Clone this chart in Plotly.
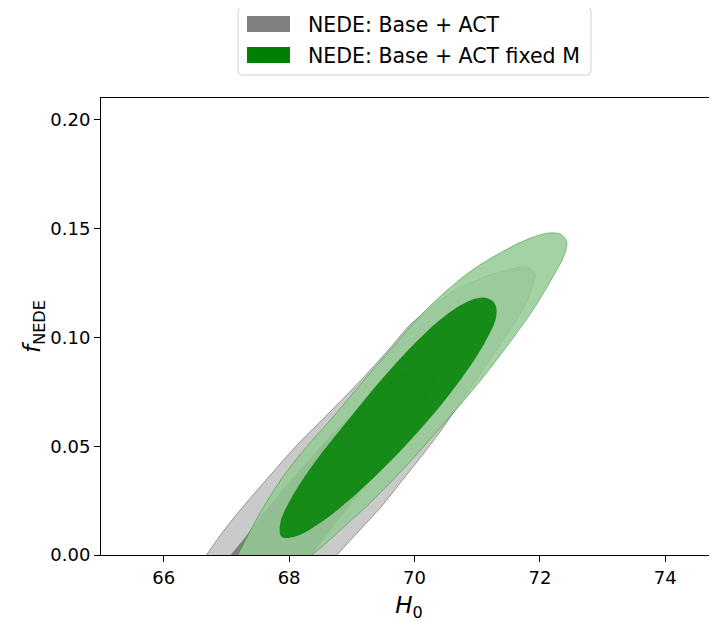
import plotly.graph_objects as go

# ---------------- data: contour outlines (H0, f_NEDE) ----------------
# NEDE: Base + ACT, 95% region (truncated at f_NEDE = 0)
base_95_h0 = [66.683, 66.990, 67.357, 67.772, 68.155, 68.585, 69.144, 69.622, 69.925, 70.308,
              70.643, 70.882, 71.153, 71.467, 71.786, 71.919, 71.871, 71.743, 71.504, 71.265,
              70.978, 70.691, 70.404, 70.100, 69.781, 69.463, 69.128, 68.761]
base_95_f = [0.0, 0.0124, 0.0253, 0.0390, 0.0514, 0.0638, 0.0803, 0.0955, 0.1056, 0.1148,
             0.1216, 0.1249, 0.1281, 0.1308, 0.1323, 0.1293, 0.1226, 0.1138, 0.1028, 0.0923,
             0.0803, 0.0684, 0.0565, 0.0450, 0.0335, 0.0220, 0.0115, 0.0]

# NEDE: Base + ACT, 68% region (truncated at f_NEDE = 0)
base_68_h0 = [67.070, 67.293, 67.565, 67.868, 68.203, 68.585, 68.952, 69.335, 69.734, 70.085,
              70.292, 70.404, 70.372, 70.212, 69.877, 69.494, 69.239, 68.936, 68.633, 68.362]
base_68_f = [0.0, 0.0078, 0.0179, 0.0289, 0.0399, 0.0523, 0.0629, 0.0730, 0.0822, 0.0886,
             0.0907, 0.0880, 0.0822, 0.0725, 0.0583, 0.0422, 0.0331, 0.0216, 0.0106, 0.0]

# NEDE: Base + ACT fixed M, 95% region (truncated at f_NEDE = 0)
fixed_95_h0 = [67.182, 67.405, 67.660, 67.979, 68.330, 68.713, 69.191, 69.654, 70.085, 70.483,
               70.914, 71.408, 71.839, 72.158, 72.349, 72.429, 72.381, 72.222, 72.046, 71.864,
               71.606, 71.329, 71.048, 70.738, 70.435, 70.123, 69.804, 69.463, 69.223, 68.957,
               68.681, 68.362]
fixed_95_f = [0.0, 0.0124, 0.0253, 0.0390, 0.0514, 0.0638, 0.0803, 0.0955, 0.1097, 0.1207,
              0.1308, 0.1395, 0.1455, 0.1480, 0.1471, 0.1437, 0.1373, 0.1285, 0.1198, 0.1115,
              0.1010, 0.0904, 0.0799, 0.0693, 0.0592, 0.0491, 0.0390, 0.0289, 0.0220, 0.0152,
              0.0078, 0.0]

# NEDE: Base + ACT fixed M, 68% region (closed)
fixed_68_h0 = [68.936, 69.494, 70.037, 70.499, 70.914, 71.137, 71.282, 71.301, 71.110, 70.737,
               70.225, 69.632, 69.034, 68.504, 68.102, 67.879, 67.860, 68.051, 68.424, 68.936]
fixed_68_f = [0.0618, 0.0813, 0.0982, 0.1102, 0.1173, 0.1182, 0.1155, 0.1092, 0.0970, 0.0807,
              0.0621, 0.0435, 0.0271, 0.0149, 0.0085, 0.0084, 0.0148, 0.0270, 0.0432, 0.0618]

series_names = ["NEDE: Base + ACT", "NEDE: Base + ACT fixed M"]
series_colors = ["rgb(128,128,128)", "rgb(0,128,0)"]

x_ticks = [66, 68, 70, 72, 74]
y_ticks = [0.00, 0.05, 0.10, 0.15, 0.20]
y_tick_labels = ["0.00", "0.05", "0.10", "0.15", "0.20"]

# ---------------- layout geometry (page pixels; the page body has an 8 px margin) ----------------
OFF = 8
PAGE_W, PAGE_H = 717, 622
W, H = PAGE_W - OFF, PAGE_H - OFF
L, R, T, B = 101, 717, 98, 555          # plot box on the page
FONT = "DejaVu Sans"
PX_PER_UNIT = 62.7                       # x-axis scale

fig = go.Figure()


def add_region(h0, f, fill, line_color, line_width):
    fig.add_trace(go.Scatter(
        x=h0, y=f, mode="lines", fill="toself", fillcolor=fill,
        line=dict(color=line_color, width=line_width, shape="spline", smoothing=1.0),
        hoverinfo="skip", showlegend=False))


add_region(base_95_h0, base_95_f, "rgb(202,202,202)", "rgba(128,128,128,0.8)", 1)
add_region(base_68_h0, base_68_f, "rgb(128,128,128)", "rgba(128,128,128,1)", 0.5)
add_region(fixed_95_h0, fixed_95_f, "rgba(149,202,149,0.85)", "rgba(0,128,0,0.45)", 0.9)
add_region(fixed_68_h0, fixed_68_f, "rgba(0,128,0,0.85)", "rgba(0,128,0,0.0)", 0.5)


def pp(px, py):
    """page pixel -> paper coordinates"""
    return (px - L) / (R - L), (B - py) / (B - T)


shapes = []
x0, y1 = pp(238, 7)
x1, y0 = pp(591, 75)
rx = 4 / (R - L)
ry = 4 / (B - T)
path = (f"M {x0+rx},{y0} L {x1-rx},{y0} Q {x1},{y0} {x1},{y0+ry} "
        f"L {x1},{y1-ry} Q {x1},{y1} {x1-rx},{y1} L {x0+rx},{y1} Q {x0},{y1} {x0},{y1-ry} "
        f"L {x0},{y0+ry} Q {x0},{y0} {x0+rx},{y0} Z")
shapes.append(dict(type="path", xref="paper", yref="paper", path=path,
                   line=dict(color="rgb(210,210,210)", width=1), fillcolor="white", layer="above"))
annotations = []
rows = [(16, 32, 24.5), (47, 63, 55.5)]
for (ya, yb, yc), name, col in zip(rows, series_names, series_colors):
    a0, b1 = pp(247, ya)
    a1, b0 = pp(290, yb)
    shapes.append(dict(type="rect", xref="paper", yref="paper", x0=a0, x1=a1, y0=b0, y1=b1,
                       line=dict(width=0), fillcolor=col, layer="above"))
    tx, ty = pp(306, yc)
    annotations.append(dict(xref="paper", yref="paper", x=tx, y=ty, xanchor="left", yanchor="middle",
                            text=name, showarrow=False, font=dict(family=FONT, size=20.5, color="black")))

fig.update_layout(
    width=W, height=H,
    margin=dict(l=L - OFF, r=PAGE_W - R, t=T - OFF, b=PAGE_H - B, pad=0),
    paper_bgcolor="white", plot_bgcolor="white",
    font=dict(family=FONT, color="black"),
    shapes=shapes, annotations=annotations,
    showlegend=False,
    xaxis=dict(range=[65, 65 + (R - L) / PX_PER_UNIT], tickvals=x_ticks, ticks="outside", ticklen=6,
               tickwidth=1, tickcolor="black", showline=True, linecolor="black", linewidth=1,
               mirror=True, showgrid=False, zeroline=False, automargin=False,
               tickfont=dict(family=FONT, size=18, color="black"),
               title=dict(text="<i>H</i><sub>0</sub>", font=dict(family=FONT, size=23), standoff=12)),
    yaxis=dict(range=[0, 0.21], tickvals=y_ticks, ticktext=y_tick_labels, ticks="outside", ticklen=6,
               tickwidth=1, tickcolor="black", showline=True, linecolor="black", linewidth=1,
               mirror=False, showgrid=False, zeroline=False, automargin=False,
               tickfont=dict(family=FONT, size=18, color="black"),
               title=dict(text="<i>f</i><sub>NEDE</sub>", font=dict(family=FONT, size=23), standoff=3)),
)

fig.write_html("out.html")
